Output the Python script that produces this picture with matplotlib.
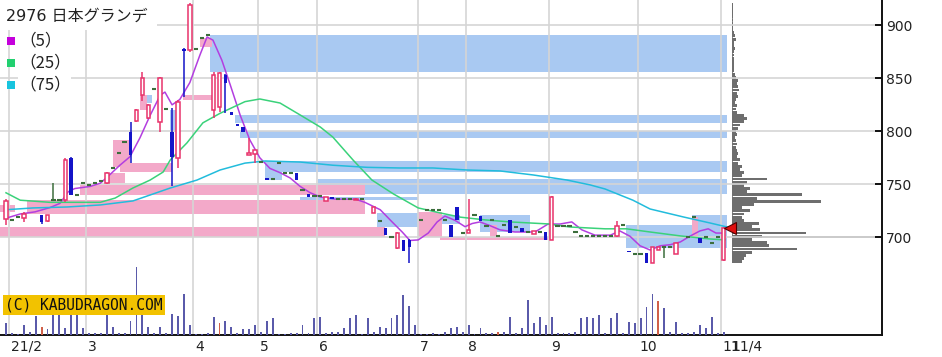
import numpy as np
import matplotlib.pyplot as plt
from matplotlib.patches import Rectangle

nan = np.nan

# --- month grid (index of first trading day in each month) ---
month_first = [1, 14, 32, 43, 53, 70, 78, 92, 107, 121]
month_labels = ['21/2', '3', '4', '5', '6', '7', '8', '9', '10', '11']
last_date = '11/4'
price_ticks = [700, 750, 800, 850, 900]

# --- daily candles (Feb .. 2021/11/4) ---
opens = [717, 716.5, 719, 718, nan, nan, 721, 715, 735, 735,
         735, 775, 740, 751, 749, 751, 753, 751, 765, 780,
         790, 799, 810, 834, 813, 840, 809, 821, 799, 775,
         878, 877, 878, 888, 891, 820, 823, 853, 818, 807,
         804, 778, 779, 771, 756, 755, 770, 761, 761, 761,
         745, 741, 739, 739, 734, 738, 736, 736, 736, 735,
         736, nan, 723, 715.5, 709, 700.5, 690, 697, 697, nan,
         716, 726, 726, 726, 716, 712, 729, 704, 704, 721,
         720, 711, 716, 701, 712, 716.5, 710, 709, 705, 703,
         705, 705, 697, 711, 711, 711, 705, 701, 701, 701,
         701, 701, 701, 701, 712, 687, 684.5, 684.5, 685, 676,
         688, 691, 691, 684, nan, 700.5, 719, 699, 700.5, 695,
         700.5, 679]
highs = [736, 716.5, 719, 724, nan, nan, 721, 721, 751, 735,
         775, 776, 740, 751, 749, 751, 753, 762, 765, 780,
         790, 809, 821, 856, 826, 840, 851, 821, 822, 830,
         879, 921, 878, 888, 891, 856, 856, 854, 818, 807,
         804, 794, 782, 771, 756, 755, 770, 761, 761, 761,
         745, 741, 739, 739, 738, 738, 736, 736, 736, 737,
         736, nan, 729, 715.5, 709, 700.5, 705, 697, 698, nan,
         716, 726, 726, 726, 716, 712, 729, 704, 736, 721,
         720, 711, 716, 701, 712, 716.5, 710, 709, 705, 706,
         705, 705, 739, 711, 711, 711, 705, 701, 701, 701,
         701, 701, 701, 715, 712, 687, 684.5, 684.5, 685, 691,
         691, 691, 691, 695, nan, 700.5, 719, 699, 700.5, 695,
         700.5, 710]
lows = [712, 716.5, 719, 714, nan, nan, 713, 714, 735, 735,
        733, 740, 740, 751, 749, 751, 753, 750, 765, 780,
        790, 770, 809, 829, 812, 840, 799, 821, 748, 765,
        832, 875, 878, 888, 891, 813, 818, 817, 815, 805,
        799, 778, 770, 771, 754, 755, 770, 761, 761, 754,
        745, 738, 739, 739, 734, 736, 736, 736, 736, 735,
        736, nan, 723, 715.5, 702, 700.5, 689, 687, 676, nan,
        716, 726, 726, 726, 716, 700, 716, 704, 704, 721,
        715, 711, 716, 701, 712, 704, 710, 705, 705, 703,
        705, 697, 697, 711, 711, 711, 705, 701, 701, 701,
        701, 701, 701, 700, 712, 686, 684.5, 684.5, 676, 676,
        688, 680, 691, 684, nan, 700.5, 719, 695, 700.5, 695,
        700.5, 678]
closes = [734, 716.5, 719, 722, nan, nan, 714, 721, 735, 735,
          773, 740, 740, 751, 749, 751, 753, 761, 765, 780,
          790, 778, 820, 850, 825, 840, 850, 821, 776, 828,
          876, 919, 878, 888, 891, 853, 855, 846, 815, 805,
          799, 780, 782, 771, 754, 755, 770, 761, 761, 754,
          745, 738, 739, 739, 738, 736, 736, 736, 736, 736.5,
          736, nan, 729, 715.5, 702, 700.5, 704, 687, 691, nan,
          716, 726, 726, 726, 716, 700, 716, 704, 707, 721,
          715, 711, 716, 701, 712, 704, 710, 705, 705, 706,
          705, 697, 738, 711, 711, 711, 705, 701, 701, 701,
          701, 701, 701, 711, 712, 686, 684.5, 684.5, 676, 691,
          691, 691, 691, 695, nan, 700.5, 719, 695, 700.5, 695,
          700.5, 709]
volume = [12, 2, 1, 10, 3, 19, 8, 6, 40, 40,
          7, 40, 20, 7, 2, 2, 2, 21, 8, 2,
          2, 14, 68, 21, 8, 2, 8, 2, 21, 19,
          41, 10, 1, 1, 2, 18, 12, 14, 8, 2,
          6, 6, 10, 3, 14, 17, 1, 1, 2, 2,
          10, 2, 17, 18, 2, 3, 3, 7, 17, 20,
          1, 17, 3, 8, 7, 17, 20, 40, 29, 10,
          1, 1, 2, 1, 3, 7, 8, 3, 10, 1,
          7, 2, 2, 3, 3, 18, 2, 7, 35, 12,
          18, 10, 18, 2, 2, 2, 3, 17, 18, 17,
          20, 2, 17, 22, 2, 13, 12, 17, 28, 41,
          34, 27, 3, 13, 2, 2, 3, 10, 7, 18,
          2, 3]
vol_red_days = [6, 36, 83, 110]

# --- moving averages ---
ma_periods = [5, 25, 75]
ma5_x = [0, 2.4, 4.9, 7.4, 9.1, 10.5, 11.6, 14.2, 15.9, 17.5,
         19.2, 20.9, 22.6, 24.3, 26.0, 26.8, 28.0, 29.3, 31.0, 32.7,
         33.9, 34.9, 36.4, 37.8, 39.5, 41.1, 42.8, 44.5, 46.2, 47.9,
         49.6, 51.3, 53.0, 55.5, 58.9, 60.5, 63.1, 65.1, 66.8, 68.1,
         69.5, 71.2, 72.7, 74.0, 75.7, 77.4, 78.6, 79.9, 81.6, 83.3,
         85.8, 89.2, 91.4, 93.4, 95.4, 97.1, 99.3, 101.9, 103.5, 105.2,
         106.9, 108.6, 110.3, 112.0, 113.7, 115.3, 117.0, 118.4, 119.7, 121.0]
ma5_y = [718, 722, 724, 728, 732, 743, 746, 748, 751, 759,
         768, 776, 794, 815, 834, 837, 825, 830, 846, 872,
         889, 886, 867, 844, 815, 792, 775, 765, 761, 756,
         748, 742, 738, 736, 736, 733, 726, 714.5, 705, 697,
         697.5, 704, 714.5, 720, 716, 710, 713, 714.5, 711, 707,
         705, 705, 712.5, 712.5, 714.5, 707, 702, 702, 706, 701,
         692, 688, 692, 693, 695.6, 701, 706, 708, 704, 704]
ma25_x = [0, 2.4, 7.4, 15.9, 18.4, 21.4, 24.3, 26.5, 27.7, 30.5,
          33.2, 36.1, 40.3, 42.8, 46.2, 49.6, 53.0, 55.1, 58.5, 61.7,
          65.3, 69.5, 73.2, 76.6, 80.8, 85.0, 91.4, 95.1, 101.0, 104.6,
          108.6, 113.7, 118.7, 121.2]
ma25_y = [742, 735, 733, 733, 737, 746.5, 754, 761.6, 773, 789,
          808, 817, 828, 830.5, 826.7, 815.4, 804, 794.6, 773, 754,
          741, 727.7, 723, 719, 716.4, 714.5, 712.6, 709.7, 708, 708,
          705, 701.3, 698.4, 697.5]
ma75_x = [0, 4.6, 10.3, 15.9, 21.4, 27.7, 32.2, 36.1, 40.3, 43.7,
          49.6, 55.1, 60.9, 66.4, 72.0, 77.7, 83.3, 88.9, 94.6, 98.5,
          101.0, 105.7, 108.6, 114.2, 118.7, 121.6]
ma75_y = [726, 727.7, 728.6, 730.5, 734.3, 746.5, 754, 763.5, 770, 772,
          771, 768, 766, 765.4, 765.4, 763.5, 762.6, 758.8, 754, 749.4,
          745.6, 735, 726.7, 719.2, 713.5, 709.7]

# --- price gaps (窓): start/end day index, low/high price ---
gap_dn_x0 = [34.4, 38.6, 39.5, 43.7, 43.7, 52.6, 49.6, 62.6, 73.2, 79.9, 104.6, 115.7, 22.9, 27.7, 5.4]
gap_dn_x1 = [121.6, 121.6, 121.6, 121.6, 46.5, 121.6, 69.5, 69.5, 76.6, 88.4, 121.6, 121.6, 24.6, 28.7, 7.8]
gap_dn_lo = [856, 808, 794, 762, 754, 741, 735, 710, 713, 705, 690, 712, 827, 799, 724]
gap_dn_hi = [891, 815, 800, 772, 762, 755, 738, 723, 721, 721, 712, 721, 834, 820, 730]

gap_up_x0 = [-1.0, 3.5, 12.5, 19.2, 29.8, 32.7, 69.5, 73.2, 81.6, 115.7, 18.0, 17.0, 22.6, -1.0]
gap_up_x1 = [63.9, 60.5, 60.5, 28.0, 34.7, 34.7, 73.5, 91.4, 82.8, 116.7, 20.9, 20.1, 23.8, 1.5]
gap_up_lo = [700, 722, 740, 762, 830, 880, 700, 697.5, 700, 700, 766, 751, 820, 724]
gap_up_hi = [710, 735, 749, 770, 834, 888, 724, 700, 712, 719, 792, 761, 834, 730]

# --- price-by-volume profile on the right ---
prof_price = [677, 680, 683, 686, 689, 692, 695, 698, 701, 704,
              707, 710, 713, 716, 719, 722, 725, 728, 731, 734,
              737, 740, 743, 746, 749, 752, 755, 758, 761, 764,
              767, 770, 773, 776, 779, 782, 785, 788, 791, 794,
              797, 800, 803, 806, 809, 812, 815, 818, 821, 824,
              827, 830, 833, 836, 839, 842, 845, 848, 851, 854,
              857, 860, 863, 866, 869, 872, 875, 878, 881, 884,
              887, 890, 893, 896, 899, 902, 905, 908, 911, 914,
              917, 920]
prof_vol = [10, 12, 14, 20, 65, 37, 35, 20, 30, 74,
            28, 20, 27, 12, 10, 12, 18, 10, 22, 89,
            25, 70, 15, 18, 12, 15, 35, 10, 12, 8,
            10, 6, 8, 5, 6, 5, 4, 5, 4, 3,
            5, 4, 6, 8, 12, 15, 12, 5, 4, 5,
            3, 4, 6, 5, 7, 6, 5, 6, 4, 3,
            2, 2, 2, 2, 2, 2, 2, 3, 2, 2,
            4, 3, 2, 1, 1, 1, 1, 0.5, 0.5, 0.5,
            0.5, 0.5]

RED = '#e8336b'
BLUE = '#1414c8'
DOJI = '#3c6e3c'
BAND_BLUE = '#a9c9f2'
BAND_PINK = '#f3a9c9'
GRID = '#d5d5d5'
MA_COLORS = ['#b33ee0', '#3ad27a', '#22bcdc']
LEGEND_COLORS = ['#c400dc', '#22d070', '#18c4de']

W, H = 942, 357
fig = plt.figure(figsize=(W / 100, H / 100), dpi=100, facecolor='white')
rect = [0, 22 / H, 882 / W, 335 / H]
ylim = (607.8, 923.9)

# profile axes (drawn underneath the main axes)
pax = fig.add_axes([732 / W, 22 / H, 150 / W, 335 / H])
pax.set_xlim(0, 150)
pax.set_ylim(*ylim)
pax.axis('off')
pax.barh(prof_price, prof_vol, height=2.7, left=0, color='#6e6e6e', lw=0)
pax.vlines(0, min(prof_price), max(prof_price), color='#6e6e6e', lw=1.2)
pax.axhline(700, color='#808080', lw=1.1, zorder=0)
pax.set_zorder(1)

ax = fig.add_axes(rect)
ax.set_facecolor('none')
ax.set_zorder(2)
ax.set_xlim(-1.01, 147.7)
ax.set_ylim(*ylim)

# volume on a twin axis
idx = np.arange(len(closes))
vax = ax.twinx()
vax.set_ylim(0, 335)
vax.axis('off')
vcols = ['#d0604a' if i in vol_red_days else '#5a5aaa' for i in idx]
vax.bar(idx, volume, width=0.32, color=vcols, lw=0)

for x0, x1, lo, hi in zip(gap_dn_x0, gap_dn_x1, gap_dn_lo, gap_dn_hi):
    ax.add_patch(Rectangle((x0, lo), x1 - x0, hi - lo, facecolor=BAND_BLUE, lw=0, zorder=1))
for x0, x1, lo, hi in zip(gap_up_x0, gap_up_x1, gap_up_lo, gap_up_hi):
    ax.add_patch(Rectangle((x0, lo), x1 - x0, hi - lo, facecolor=BAND_PINK, lw=0, zorder=1))

for p in price_ticks:
    ax.axhline(p, color=GRID, lw=1.2, zorder=1.5)
for m in month_first:
    ax.axvline(m - 0.5, color=GRID, lw=1.2, zorder=1.5)

# moving averages
for xs, ys, col in zip([ma5_x, ma25_x, ma75_x], [ma5_y, ma25_y, ma75_y], MA_COLORS):
    ax.plot(xs, ys, color=col, lw=1.1, zorder=3)

# candles
o, h, l, c = (np.array(a, dtype=float) for a in (opens, highs, lows, closes))
up = c > o
dn = c < o
flat = c == o
for mask, col in ((up, RED), (dn, BLUE), (flat, DOJI)):
    sel = mask & (h > l)
    ax.vlines(idx[sel], l[sel], h[sel], color=col, lw=1.1, zorder=4)
ax.bar(idx[up], (c - o)[up], bottom=o[up], width=0.6, facecolor='white',
       edgecolor=RED, lw=1.1, zorder=5)
ax.bar(idx[dn], (o - c)[dn], bottom=c[dn], width=0.6, color=BLUE, lw=0, zorder=5)
ax.hlines(c[flat], idx[flat] - 0.36, idx[flat] + 0.36, color=DOJI, lw=1.5, zorder=5)

# current price marker
ax.plot(idx[-1] + 1.1, closes[-1], marker='<', ms=8, color='#e01010',
        mec='#500000', mew=0.8, clip_on=False, zorder=6)

# axes styling (after twinx, which resets tick sides)
for side in ('left', 'top'):
    ax.spines[side].set_visible(False)
for side in ('right', 'bottom'):
    ax.spines[side].set_linewidth(1.4)
    ax.spines[side].set_color('#111111')
ax.set_xticks([])
ax.set_yticks(price_ticks)
ax.tick_params(axis='y', left=False, labelleft=False, right=True, labelright=True,
               direction='in', length=5, width=1.3, pad=3,
               labelsize=10, labelcolor='#222222')

for m, lab in zip(month_first, month_labels):
    ax.annotate(lab, xy=(m - 0.5, 0), xycoords=('data', 'axes fraction'),
                xytext=(1.5, -3.5), textcoords='offset points',
                ha='left', va='top', fontsize=10, color='#222222')
ax.annotate(last_date, xy=(idx[-1], 0), xycoords=('data', 'axes fraction'),
            xytext=(5.5, -3.5), textcoords='offset points',
            ha='left', va='top', fontsize=10, color='#222222')

# legend block
fig.add_artist(Rectangle((0, 1 - 30 / H), 157 / W, 30 / H, transform=fig.transFigure,
                         facecolor='white', edgecolor='none', zorder=5))
fig.text(6 / W, 1 - 16 / H, '2976 日本グランデ', fontsize=11.5, va='center', ha='left',
         family=['DejaVu Sans', 'Noto Sans CJK JP'], color='#222222', zorder=6)
for k, (n, col) in enumerate(zip(ma_periods, LEGEND_COLORS)):
    yc = 41 + k * 22
    fig.add_artist(Rectangle((7 / W, 1 - (yc + 4) / H), 8 / W, 8 / H, transform=fig.transFigure,
                             facecolor=col, edgecolor='none', zorder=6))
    fig.text(19 / W, 1 - yc / H, f'（{n}）', fontsize=12, va='center', ha='left',
             family=['Noto Sans CJK JP', 'DejaVu Sans'], color='#222222', zorder=6,
             bbox=dict(facecolor='white', edgecolor='none', pad=0.5))

# watermark
fig.text(5 / W, 1 - 305 / H, '(C) KABUDRAGON.COM', fontsize=10.5, family='DejaVu Sans Mono',
         va='center', ha='left', color='#111111', zorder=7,
         bbox=dict(facecolor='#f2c200', edgecolor='none', pad=1.5))

fig.savefig('out.png', dpi=100, facecolor='white')
